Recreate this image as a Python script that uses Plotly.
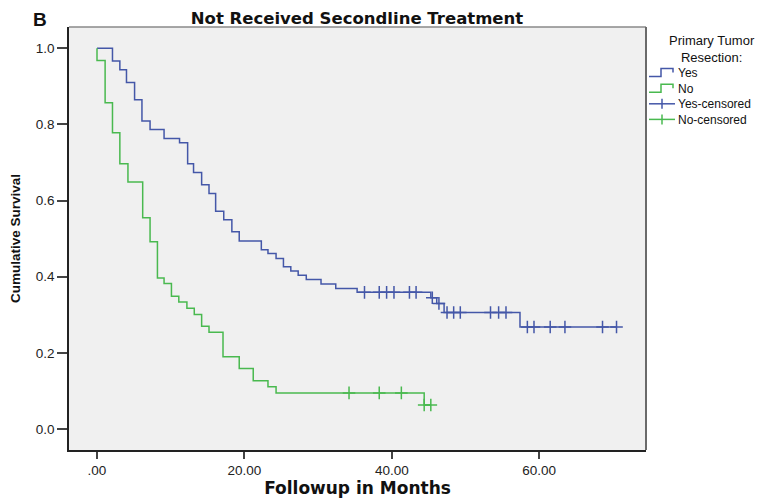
import plotly.graph_objects as go

# Kaplan-Meier step data (months, cumulative survival)
yes_time = [0, 2.1, 3.1, 4.0, 5.1, 6.1, 7.2, 9.1, 11.2, 12.3, 13.1, 14.2, 15.2, 16.1, 17.2,
            18.3, 19.3, 22.3, 23.2, 24.3, 25.3, 26.3, 27.3, 28.4, 30.4, 32.4, 35.3, 45.3,
            46.1, 47.1, 57.4, 70.5]
yes_surv = [1.0, 0.967, 0.944, 0.91, 0.865, 0.809, 0.787, 0.763, 0.752, 0.697, 0.674, 0.642,
            0.619, 0.572, 0.55, 0.518, 0.494, 0.471, 0.461, 0.448, 0.426, 0.415, 0.404, 0.393,
            0.381, 0.369, 0.359, 0.345, 0.33, 0.306, 0.268, 0.268]

no_time = [0, 0, 1.1, 2.1, 3.1, 4.2, 6.2, 7.2, 8.2, 9.1, 10.1, 11.1, 12.2, 13.2, 14.2, 15.2,
           17.1, 19.3, 21.2, 23.2, 24.3, 44.4, 45.3]
no_surv = [1.0, 0.968, 0.857, 0.778, 0.697, 0.649, 0.555, 0.492, 0.397, 0.382, 0.349, 0.334,
           0.317, 0.301, 0.27, 0.254, 0.19, 0.159, 0.127, 0.111, 0.095, 0.063, 0.063]

yes_cens_time = [36.3, 38.3, 39.3, 40.3, 42.4, 43.3, 45.5, 46.4, 47.5, 48.4, 49.3, 53.4, 54.5,
                 55.5, 58.4, 59.3, 61.5, 63.5, 68.6, 70.5]
yes_cens_surv = [0.359, 0.359, 0.359, 0.359, 0.359, 0.359, 0.345, 0.33, 0.306, 0.306, 0.306,
                 0.306, 0.306, 0.306, 0.268, 0.268, 0.268, 0.268, 0.268, 0.268]

no_cens_time = [34.2, 38.3, 41.3, 44.4, 45.3]
no_cens_surv = [0.095, 0.095, 0.095, 0.063, 0.063]

x_tickvals = [0, 20, 40, 60]
x_ticktext = [".00", "20.00", "40.00", "60.00"]
y_tickvals = [0.0, 0.2, 0.4, 0.6, 0.8, 1.0]
y_ticktext = ["0.0", "0.2", "0.4", "0.6", "0.8", "1.0"]

legend_title = ["Primary Tumor", "Resection:"]
legend_names = ["Yes", "No", "Yes-censored", "No-censored"]

BLUE = "#4457a8"
GREEN = "#49b94f"
colors = [BLUE, GREEN, BLUE, GREEN]

fig = go.Figure()
fig.add_trace(go.Scatter(x=yes_time, y=yes_surv, mode="lines", line_shape="hv",
                         line=dict(color=BLUE, width=1.5), name=legend_names[0]))
fig.add_trace(go.Scatter(x=no_time, y=no_surv, mode="lines", line_shape="hv",
                         line=dict(color=GREEN, width=1.5), name=legend_names[1]))
fig.add_trace(go.Scatter(x=yes_cens_time, y=yes_cens_surv, mode="markers",
                         marker=dict(symbol="cross-thin", size=9,
                                     line=dict(color=BLUE, width=1.5)),
                         name=legend_names[2]))
fig.add_trace(go.Scatter(x=no_cens_time, y=no_cens_surv, mode="markers",
                         marker=dict(symbol="cross-thin", size=9,
                                     line=dict(color=GREEN, width=1.5)),
                         name=legend_names[3]))

font_family = "Liberation Sans, Arial, sans-serif"
wide_bold = "DejaVu Sans, Verdana, sans-serif"

OFF = 8  # default page body margin
W, H = 782 - OFF, 501 - OFF
L, R, T, B = 69 - OFF, 646 - OFF, 27 - OFF, 450 - OFF


def px(xr):
    return (xr - OFF - L) / (R - L)


def py(yr):
    return (B - (yr - OFF)) / (B - T)


fig.update_layout(
    width=W, height=H,
    margin=dict(l=L, r=W - R, t=T, b=H - B),
    paper_bgcolor="white",
    plot_bgcolor="#f0f0f0",
    font=dict(family=font_family, size=13, color="#222"),
    title=dict(text="Not Received Secondline Treatment", xref="paper", x=px(357),
               xanchor="center", y=1 - 10 / H, yanchor="middle",
               font=dict(family=wide_bold, size=16.5, weight="bold", color="#111")),
    showlegend=False,
    xaxis=dict(range=[-3.8, 74.5], tickvals=x_tickvals, ticktext=x_ticktext,
               automargin=False,
               showgrid=False, zeroline=False,
               showline=True, linecolor="#222", linewidth=1.5, mirror=False,
               ticks="outside", ticklen=7, tickwidth=1.5, tickcolor="#444",
               tickfont=dict(family=font_family, size=13.5, color="#222"),
               title=dict(text="Followup in Months", standoff=5,
                          font=dict(family=wide_bold, size=17,
                                    weight="bold", color="#111"))),
    yaxis=dict(range=[-0.055, 1.056], tickvals=y_tickvals, ticktext=y_ticktext,
               automargin=False,
               showgrid=False, zeroline=False,
               showline=True, linecolor="#222", linewidth=1.5, mirror=False,
               ticks="outside", ticklen=10, tickwidth=1.5, tickcolor="#444",
               tickfont=dict(family=font_family, size=13.5, color="#222"),
               title=dict(text="Cumulative Survival", standoff=15,
                          font=dict(family=font_family, size=13.5, weight="bold",
                                    color="#111"))),
)

# Top/right frame in gray
fig.add_shape(type="line", xref="paper", yref="paper", x0=0, x1=1, y0=1, y1=1,
              line=dict(color="#8a8a8a", width=1.5))
fig.add_shape(type="line", xref="paper", yref="paper", x0=1, x1=1, y0=0, y1=1,
              line=dict(color="#6a6a6a", width=2))

# Panel letter
fig.add_annotation(text="B", xref="paper", yref="paper", x=px(40), y=py(OFF),
                   xanchor="center", yanchor="top", showarrow=False, borderpad=0,
                   font=dict(family=font_family, size=19, weight="bold", color="#111"))

# Manual legend (SPSS style)
fig.add_annotation(text="<br>".join(legend_title), xref="paper", yref="paper",
                   x=px(712), y=py(48.5), xanchor="center", yanchor="middle", align="center",
                   showarrow=False, font=dict(family=font_family, size=13, color="#111"))

item_font = 12
line_h = item_font * 1.3
center_y = 96
fig.add_annotation(text="<br>".join(legend_names), xref="paper", yref="paper",
                   x=px(676), y=py(center_y), xanchor="left", yanchor="middle", align="left",
                   showarrow=False, font=dict(family=font_family, size=item_font, color="#111"))

for i, col in enumerate(colors):
    yc = center_y + (i - 1.5) * line_h
    if i < 2:
        path = (f"M {px(649)},{py(yc + 4)} L {px(661)},{py(yc + 4)} L {px(661)},{py(yc - 4)} "
                f"L {px(673)},{py(yc - 4)} L {px(673)},{py(yc)}")
        fig.add_shape(type="path", xref="paper", yref="paper", path=path,
                      line=dict(color=col, width=1.5))
    else:
        fig.add_shape(type="line", xref="paper", yref="paper", x0=px(649), x1=px(675),
                      y0=py(yc), y1=py(yc), line=dict(color=col, width=1.5))
        fig.add_shape(type="line", xref="paper", yref="paper", x0=px(662), x1=px(662),
                      y0=py(yc - 5), y1=py(yc + 5), line=dict(color=col, width=1.5))

fig.write_html("out.html")
